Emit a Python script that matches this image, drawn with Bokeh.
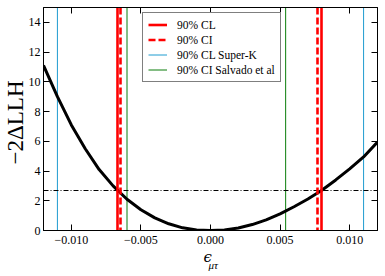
from math import pi

from bokeh.embed import file_html
from bokeh.models import FixedTicker, Label, Legend, LegendItem, LinearAxis, Range1d
from bokeh.plotting import figure
from bokeh.resources import INLINE

# -2 Delta log-likelihood profile versus epsilon_mu_tau
eps = [-0.012, -0.011, -0.010, -0.009, -0.008, -0.007, -0.006, -0.005, -0.004,
       -0.003, -0.002, -0.001, 0.000, 0.001, 0.002, 0.003, 0.004, 0.005, 0.006,
       0.007, 0.008, 0.009, 0.010, 0.011, 0.012]
llh = [11.1, 9.0, 7.1, 5.5, 4.1, 3.0, 2.1, 1.4, 0.85, 0.45, 0.18, 0.04, 0.0,
       0.04, 0.17, 0.40, 0.72, 1.12, 1.60, 2.12, 2.71, 3.40, 4.15, 4.95, 5.95]

# interval edges
cl_90 = [-0.0067, 0.0080]
ci_90 = [-0.00645, 0.0077]
superk_cl = [-0.011, 0.011]
salvado_ci = [-0.0060, 0.0054]
threshold = [2.71]

x_ticks = [-0.010, -0.005, 0.0, 0.005, 0.010]
x_tick_labels = ["\u22120.010", "\u22120.005", "0.000", "0.005", "0.010"]
y_ticks = [0, 2, 4, 6, 8, 10, 12, 14]
y_lo, y_hi = 0, 15

SERIF = "Liberation Serif"

p = figure(width=385, height=276, output_backend="svg", toolbar_location=None,
           x_range=Range1d(-0.012, 0.012), y_range=Range1d(y_lo, y_hi),
           min_border_left=43, min_border_right=8, min_border_top=7,
           min_border_bottom=46, x_axis_location=None, y_axis_location=None)
p.grid.visible = False
p.outline_line_color = "black"
p.outline_line_width = 1
p.background_fill_color = "white"
p.border_fill_color = "white"


def styled_axis(ticks, labels=True, overrides=None):
    ax = LinearAxis(ticker=FixedTicker(ticks=ticks))
    ax.major_tick_in = 6
    ax.major_tick_out = 0
    ax.major_tick_line_color = "black"
    ax.minor_tick_line_color = None
    ax.axis_line_color = "black"
    ax.major_label_text_font = SERIF
    ax.major_label_text_font_size = "12px"
    ax.major_label_text_color = "black"
    if labels:
        if overrides:
            ax.major_label_overrides = overrides
    else:
        ax.major_label_overrides = {t: "" for t in ticks}
        ax.major_label_standoff = 0
    return ax


bottom = styled_axis(x_ticks, overrides=dict(zip(x_ticks, x_tick_labels)))
bottom.major_label_standoff = 5
left = styled_axis(y_ticks)
left.major_label_standoff = 3
p.add_layout(bottom, "below")
p.add_layout(left, "left")
p.add_layout(styled_axis(x_ticks, labels=False), "above")
p.add_layout(styled_axis(y_ticks, labels=False), "right")

# reference intervals (thin lines)
r_sk = p.segment(x0=superk_cl, y0=y_lo, x1=superk_cl, y1=y_hi,
                 line_color="#1f9cd0", line_width=1)
r_sal = p.segment(x0=salvado_ci, y0=y_lo, x1=salvado_ci, y1=y_hi,
                  line_color="#0a7d0a", line_width=1)

# profile curve and threshold
p.line(eps, llh, line_color="black", line_width=3)
p.hspan(y=threshold, line_color="black", line_width=1, line_dash="5 2 1 2")

# this analysis
r_cl = p.vspan(x=cl_90, line_color="#ff0000", line_width=2.6)
r_ci = p.vspan(x=ci_90, line_color="#ff0000", line_width=2.6, line_dash="7 3")

legend = Legend(items=[
    LegendItem(label="90% CL", renderers=[r_cl]),
    LegendItem(label="90% CI", renderers=[r_ci]),
    LegendItem(label="90% CL Super-K", renderers=[r_sk]),
    LegendItem(label="90% CI Salvado et al", renderers=[r_sal]),
], location=(99, 148))
legend.label_text_font = SERIF
legend.label_text_font_size = "11.5px"
legend.label_text_color = "black"
legend.glyph_width = 19
legend.glyph_height = 13
legend.label_height = 13
legend.label_standoff = 10
legend.spacing = 2
legend.padding = 5
legend.margin = 0
legend.border_line_color = "black"
legend.border_line_width = 1
legend.background_fill_color = "white"
legend.background_fill_alpha = 1
p.add_layout(legend, "center")

# y-axis title, in the panel left of the axis
p.add_layout(Label(x=15, y=108, x_units="screen", y_units="screen",
                   text="\u22122\u0394LLH", angle=pi / 2, text_align="center",
                   text_baseline="middle", text_font=SERIF,
                   text_font_size="23px", text_color="black"), "left")

# x-axis title: epsilon with a mu-tau subscript, in the panels below the axis
p.add_layout(Label(x=160, y=8, x_units="screen", y_units="screen",
                   text="\u03f5", text_align="left", text_baseline="alphabetic",
                   text_font="DejaVu Serif", text_font_style="italic",
                   text_font_size="15px", text_color="black"), "below")
p.add_layout(Label(x=165, y=12, x_units="screen", y_units="screen",
                   text="\u03bc\u03c4", text_align="left",
                   text_baseline="alphabetic", text_font=SERIF,
                   text_font_style="italic", text_font_size="11px",
                   text_color="black"), "below")

open("out.html", "w").write(file_html(p, INLINE))
